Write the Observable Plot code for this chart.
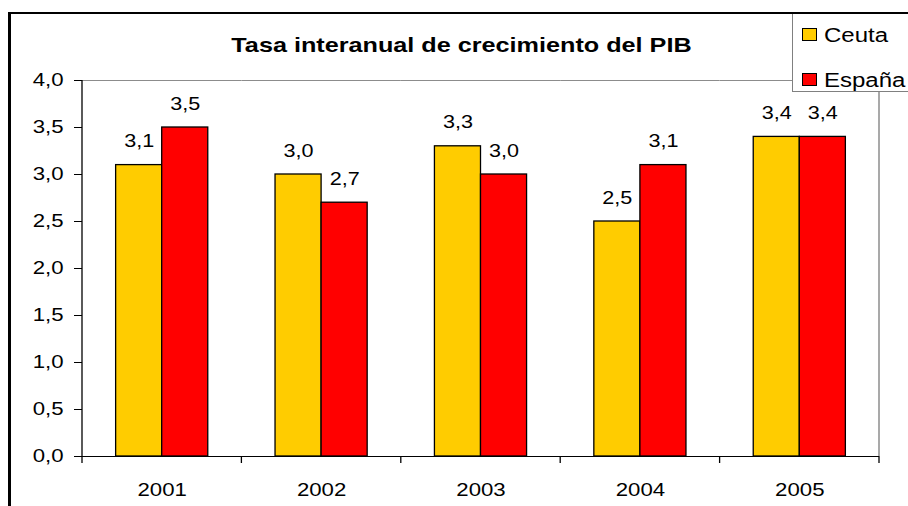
<!DOCTYPE html>
<html>
<head>
<meta charset="utf-8">
<script src="https://cdn.jsdelivr.net/npm/d3@7"></script>
<script src="https://cdn.jsdelivr.net/npm/@observablehq/plot@0.6"></script>
<style>
  html, body { margin: 0; padding: 0; background: #fff; overflow: hidden; }
  #wrap { position: relative; width: 908px; height: 506px; overflow: hidden; font-family: "Liberation Sans", Arial, sans-serif; color: #000; }
  #chart { position: absolute; left: 0; top: 0; }
  #frame { position: absolute; left: 8px; top: 12px; width: 1000px; height: 600px; border-left: 3px solid #000; border-top: 2px solid #000; z-index: 3; pointer-events: none; }
  #title { position: absolute; left: 0; top: 34px; width: 923px; text-align: center; font-weight: bold; font-size: 21px; line-height: 21px; transform: scaleX(1.2); transform-origin: 461.5px 50%; z-index: 2; }
  #legend { position: absolute; left: 792px; top: 13px; width: 140px; height: 77px; border: 1px solid #808080; background: #fff; z-index: 2; }
  .sw { position: absolute; left: 9px; width: 13px; height: 11px; border: 1px solid #000; }
  .lt { position: absolute; left: 31px; font-size: 20px; line-height: 20px; white-space: nowrap; transform: scaleX(1.2); transform-origin: 0 50%; }
</style>
</head>
<body>
<div id="wrap">
  <div id="chart"></div>
  <div id="title"></div>
  <div id="legend"></div>
  <div id="frame"></div>
</div>
<script>
// ---- data ----
const titleText = "Tasa interanual de crecimiento del PIB";
const years = ["2001", "2002", "2003", "2004", "2005"];
const series = ["Ceuta", "España"];
const ceuta = [3.1, 3.0, 3.3, 2.5, 3.4];
const espana = [3.5, 2.7, 3.0, 3.1, 3.4];
const colors = ["#FFCC00", "#FF0000"];
const yTicks = [0, 0.5, 1, 1.5, 2, 2.5, 3, 3.5, 4];
const yDomain = [0, 4];

const fmt = v => v.toFixed(1).replace(".", ",");
const rows = [];
years.forEach((yr, i) => {
  rows.push({year: yr, series: series[0], value: ceuta[i]});
  rows.push({year: yr, series: series[1], value: espana[i]});
});

const chart = Plot.plot({
  width: 908,
  height: 506,
  marginLeft: 82,
  marginRight: 29,
  marginTop: 80,
  marginBottom: 50,
  style: {fontFamily: "'Liberation Sans', Arial, sans-serif", fontSize: "18px", color: "black", background: "transparent"},
  fx: {domain: years, padding: 0, round: false, axis: null, label: null},
  x: {domain: series, paddingInner: 0, paddingOuter: 0.73, round: false, axis: null},
  y: {domain: yDomain, axis: null},
  color: {domain: series, range: colors},
  marks: [
    Plot.ruleY([yDomain[1]], {stroke: "#8c8c8c", strokeWidth: 1.2}),
    Plot.barY(rows, {fx: "year", x: "series", y: "value", fill: "series", stroke: "black", strokeWidth: 1.3}),
    Plot.text(rows, {fx: "year", x: "series", y: "value", text: d => fmt(d.value), lineAnchor: "bottom", dy: -18, fontSize: 18}),
    Plot.ruleY([yDomain[0]], {stroke: "black", strokeWidth: 1.2}),
    Plot.axisY(yTicks, {anchor: "left", tickFormat: fmt, tickSize: 8, tickPadding: 11, label: null, fontSize: 18.5}),
    Plot.axisFx({anchor: "bottom", tickSize: 0, tickPadding: 26, label: null, fontSize: 18.5})
  ]
});
document.getElementById("chart").appendChild(chart);

// axis lines and category-boundary ticks from the library's scales
const fxs = chart.scale("fx");
const ys = chart.scale("y");
const svg = d3.select(chart);
const g = svg.append("g");
const y0 = ys.apply(yDomain[0]), y1 = ys.apply(yDomain[1]);
const bounds = years.map(yr => fxs.apply(yr)).concat([fxs.apply(years[years.length - 1]) + fxs.bandwidth]);
const xl = bounds[0], xr = bounds[bounds.length - 1];
g.append("line").attr("x1", xr).attr("x2", xr).attr("y1", y1).attr("y2", y0).attr("stroke", "#8c8c8c").attr("stroke-width", 1.5);
g.append("line").attr("x1", xl).attr("x2", xl).attr("y1", y1).attr("y2", y0 + 7).attr("stroke", "black").attr("stroke-width", 1.3);
bounds.slice(1).forEach(b => {
  g.append("line").attr("x1", b).attr("x2", b).attr("y1", y0).attr("y2", y0 + 7).attr("stroke", "black").attr("stroke-width", 1.3);
});

// horizontal stretch of the SVG texts around their anchor (reference text is wide)
chart.querySelectorAll("text").forEach(t => {
  const bb = t.getBBox();
  if (!bb.width) return;
  const anchor = getComputedStyle(t).textAnchor;
  const cx = anchor === "end" ? bb.x + bb.width : anchor === "middle" ? bb.x + bb.width / 2 : bb.x;
  const prev = t.getAttribute("transform") || "";
  t.setAttribute("transform", `${prev} translate(${cx},0) scale(1.2,1) translate(${-cx},0)`.trim());
});

// title
document.getElementById("title").textContent = titleText;

// legend
const legend = document.getElementById("legend");
const swTop = [14, 59];
const txtTop = [11, 56];
series.forEach((s, i) => {
  const sw = document.createElement("div");
  sw.className = "sw";
  sw.style.top = swTop[i] + "px";
  sw.style.background = colors[i];
  legend.appendChild(sw);
  const lt = document.createElement("div");
  lt.className = "lt";
  lt.style.top = txtTop[i] + "px";
  lt.textContent = s;
  legend.appendChild(lt);
});
</script>
</body>
</html>
